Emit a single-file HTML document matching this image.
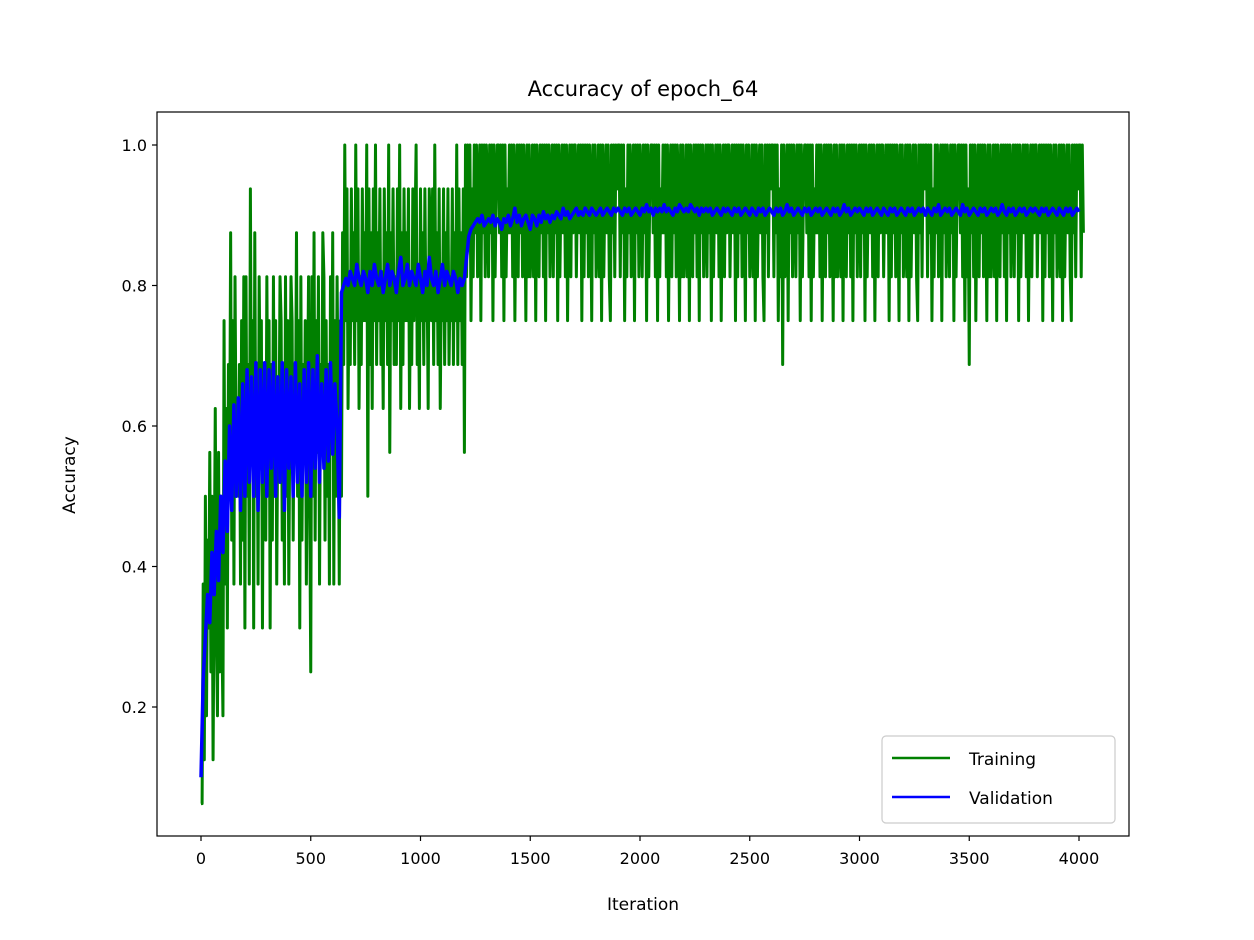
<!DOCTYPE html>
<html><head><meta charset="utf-8"><style>
html,body{margin:0;padding:0;background:#fff;}
svg{display:block;font-family:"DejaVu Sans","Liberation Sans",sans-serif;}
</style></head><body>
<svg id="chart" width="1254" height="940" viewBox="0 0 1254 940" xmlns="http://www.w3.org/2000/svg">
<rect x="0" y="0" width="1254" height="940" fill="#fff"/>
<text x="643" y="96" font-size="21" text-anchor="middle">Accuracy of epoch_64</text>
<g id="plot"></g>
<rect x="157" y="112" width="972" height="724" fill="none" stroke="#000" stroke-width="1.2"/>
<g id="axes"></g>
<text x="643" y="910" font-size="17" text-anchor="middle">Iteration</text>
<text transform="translate(75,475) rotate(-90)" font-size="17" text-anchor="middle">Accuracy</text>
<g>
<rect x="882" y="736" width="233" height="87" rx="4" fill="#fff" fill-opacity="0.8" stroke="#ccc" stroke-width="1.2"/>
<line x1="892" y1="758" x2="950" y2="758" stroke="#008000" stroke-width="2.5"/>
<text x="969" y="765" font-size="17">Training</text>
<line x1="892" y1="797" x2="950" y2="797" stroke="#0000ff" stroke-width="2.5"/>
<text x="969" y="804" font-size="17">Validation</text>
</g>
</svg>
<script>
// training accuracy in sixteenths (hex digit, g = 16), one value per 5 iterations
const trainSixteenths = (
"1162837594826a539485" + "3c6a5b8e7c6d9a8b6c7d" + "5d8b6f9c5e8b6dac5ba7" + "d9c5b7d8c6a9dc7b6d8c" +
"6adc7b9e8c5d7b9c6ad8" + "4d8e7c9d6b9ed7c8b6d9" + "e6c8da6c8" +
"ebgcfadbfcebgcfa" + "dbfcecg8fbeafcgb" + "ecfbdafcebg9ecfb" + "dbfcgaebfcecfadb" +
"fcegbdafcebfcdaf" + "ecfbgcebfadcfbec" + "fbdcfbecgbfcebf9" +
"gdgegcfdgegdfgcgegdg" + "fdgegcgdfggegdgcgdfe" + "gegdgcfgdgegdgfcgdgd" + "egdgcgfdgegdgcgegdfg" +
"dgegcgdfgegdgcfgdgeg" + "gdfgegcgdgegdgfcgegd" + "egdgcgdfgegdcgegdgfg" +
"gdgegcfdgegdfgcgegdg" + "fdgegcgdfggegdgcgdfe" + "gegdgcfgdgegdgfcgdgd" + "egdgcgfdgegdgcgegdfg" +
"dgegcgdfgegdgcfgdgeg" + "gdfgegcgdgegdgfcgegd" + "egdgcgdfgegdcgegdgfg" +
"gdgegcfdgbgdfgcgegdg" + "fdgegcgdfggegdgcgdfe" + "gegdgcfgdgegdgfcgdgd" + "egdgcgfdgegdgcgegdfg" +
"dgegcgdfgegdgcfgdgeg" + "gdfgegcgdgegdgfcgegd" + "egdgcgdfgegdcgegdgfg" +
"gdgegcfdgegdfgcgegdg" + "fdgegcgdfggegdgcgdfb" + "gegdgcfgdgegdgfcgdgd" + "egdgcgfdgegdgcgegdfg" +
"dgegcgdfgegdgcfgdgeg" + "gdfgegcgdgegdgfcgegd" + "egdgcgdfgegdcgegdgfg" + "gdge"
).split('');
const trainStep = 5;
const validationAcc = [
0.1,0.24,0.3,0.36,0.32,0.42,0.36,0.45,0.38,0.5, 0.42,0.55,0.45,0.6,0.48,0.63,0.5,0.64,0.48,0.66,
0.5,0.68,0.52,0.67,0.5,0.69,0.48,0.68,0.52,0.69, 0.5,0.68,0.54,0.69,0.5,0.67,0.52,0.69,0.48,0.68,
0.54,0.67,0.5,0.69,0.52,0.66,0.5,0.68,0.52,0.69, 0.5,0.68,0.54,0.7,0.52,0.66,0.54,0.68,0.55,0.69,
0.56,0.66,0.6,0.47,0.79,
0.8,0.81,0.8,0.82,0.81,0.8,0.83,0.81,0.8,0.82, 0.81,0.79,0.82,0.8,0.83,0.81,0.8,0.82,0.79,0.81,
0.83,0.8,0.82,0.81,0.79,0.82,0.84,0.8,0.81,0.83, 0.8,0.82,0.81,0.8,0.83,0.81,0.79,0.82,0.8,0.84,
0.81,0.8,0.82,0.79,0.81,0.83,0.8,0.82,0.81,0.8, 0.82,0.81,0.79,0.81,0.8,0.81,
0.84,0.87,0.88,0.885,0.89,0.895,0.89,0.9,0.885,0.89, 0.895,0.89,0.9,0.885,0.895,0.89,0.88,0.895,0.89,0.9,
0.885,0.895,0.91,0.89,0.9,0.885,0.895,0.9,0.89,0.88, 0.9,0.895,0.885,0.9,0.89,0.905,0.895,0.9,0.89,0.9,
0.895,0.905,0.9,0.895,0.91,0.9,0.905,0.895,0.9,0.905, 0.91,0.9,0.905,0.9,0.91,0.905,0.9,0.91,0.905,0.9,
0.905,0.91,0.9,0.905,0.91,0.905,0.9,0.91,0.905,0.91, 0.905,0.9,0.91,0.905,0.91,0.9,0.905,0.91,0.905,0.9,
0.91,0.905,0.915,0.905,0.91,0.9,0.91,0.905,0.91,0.905, 0.915,0.905,0.91,0.905,0.9,0.91,0.905,0.915,0.91,0.905,
0.91,0.905,0.915,0.91,0.905,0.91,0.9,0.91,0.905,0.91, 0.905,0.91,0.9,0.905,0.91,0.905,0.9,0.91,0.905,0.91,
0.905,0.9,0.91,0.905,0.91,0.9,0.905,0.91,0.905,0.9, 0.91,0.905,0.9,0.91,0.905,0.91,0.9,0.905,0.91,0.905,
0.9,0.91,0.905,0.91,0.9,0.905,0.915,0.905,0.91,0.9, 0.905,0.91,0.905,0.9,0.91,0.905,0.91,0.9,0.905,0.91,
0.905,0.91,0.9,0.905,0.91,0.905,0.9,0.91,0.905,0.91, 0.9,0.905,0.915,0.905,0.91,0.9,0.905,0.91,0.905,0.91,
0.905,0.9,0.91,0.905,0.91,0.9,0.905,0.91,0.905,0.9, 0.91,0.905,0.9,0.91,0.905,0.91,0.9,0.905,0.91,0.905,
0.9,0.91,0.905,0.91,0.9,0.905,0.91,0.905,0.91,0.9, 0.91,0.905,0.9,0.91,0.905,0.915,0.9,0.905,0.91,0.905,
0.91,0.9,0.905,0.91,0.905,0.9,0.915,0.905,0.91,0.9, 0.905,0.91,0.905,0.9,0.91,0.905,0.91,0.9,0.905,0.91,
0.905,0.91,0.9,0.905,0.915,0.905,0.9,0.91,0.905,0.91, 0.9,0.905,0.91,0.905,0.91,0.9,0.905,0.91,0.905,0.91,
0.905,0.9,0.91,0.905,0.91,0.9,0.905,0.91,0.905,0.9, 0.91,0.905,0.9,0.91,0.905,0.91,0.9,0.905,0.91,0.905
];
const validationStep = 10;
const xTicks = [0,500,1000,1500,2000,2500,3000,3500,4000];
const yTicks = [0.2,0.4,0.6,0.8,1.0];
const yTickLabels = ["0.2","0.4","0.6","0.8","1.0"];

const NS = "http://www.w3.org/2000/svg";
function xScale(it){ return 201 + it * (878/4000); }
function yScale(v){ return 145 + (1 - v) * 702.5; }
function mk(tag, attrs){ const e=document.createElementNS(NS,tag); for(const k in attrs) e.setAttribute(k,attrs[k]); return e; }

const plot = document.getElementById('plot');
const axes = document.getElementById('axes');

const tp = trainSixteenths.map((c,i)=>xScale(i*trainStep).toFixed(2)+','+yScale(parseInt(c,17)/16).toFixed(2)).join(' ');
const tl = mk('polyline',{points:tp,fill:'none',stroke:'#008000','stroke-width':'3','stroke-linejoin':'round'});


plot.appendChild(tl);

const vp = validationAcc.map((v,i)=>xScale(i*validationStep).toFixed(2)+','+yScale(v).toFixed(2)).join(' ');
const vl = mk('polyline',{points:vp,fill:'none',stroke:'#0000ff','stroke-width':'3.5','stroke-linejoin':'round'});


plot.appendChild(vl);

xTicks.forEach(t=>{
  const x = xScale(t);
  const l = mk('line',{x1:x,y1:836,x2:x,y2:841,stroke:'#000','stroke-width':'1.2'});
  
  
  axes.appendChild(l);
  const tx = mk('text',{x:x,y:864,'font-size':'16','text-anchor':'middle'});
  tx.textContent = String(t);
  
  
  axes.appendChild(tx);
});
yTicks.forEach((t,i)=>{
  const y = yScale(t);
  const l = mk('line',{x1:152,y1:y,x2:157,y2:y,stroke:'#000','stroke-width':'1.2'});
  
  
  axes.appendChild(l);
  const tx = mk('text',{x:147,y:y+6,'font-size':'16','text-anchor':'end'});
  tx.textContent = yTickLabels[i];
  
  
  axes.appendChild(tx);
});
</script>
</body></html>
